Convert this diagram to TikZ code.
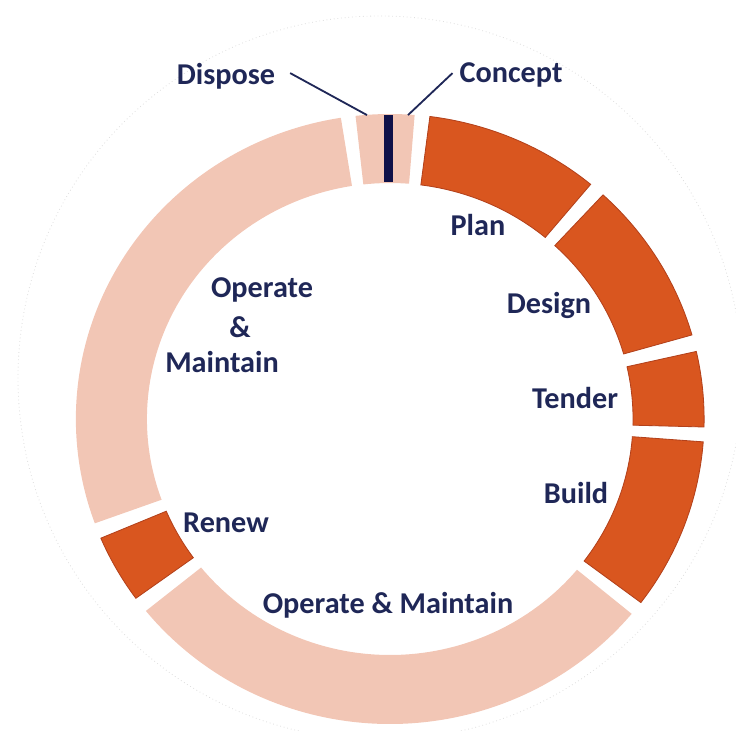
\documentclass[tikz,border=0pt]{standalone}
\usepackage{fontspec}
\setmainfont{Carlito}
\definecolor{phaseorange}{HTML}{D9561F}
\definecolor{phasepink}{HTML}{F2C6B5}
\definecolor{phaseedge}{HTML}{B3411B}
\definecolor{phasenavy}{HTML}{1F2757}
\definecolor{barnavy}{HTML}{0F1148}
\begin{document}
\begin{tikzpicture}[scale=0.025,
  every node/.style={font=\fontsize{21.5}{25}\selectfont\bfseries, text=phasenavy},
  darkseg/.style={fill=phaseorange, draw=phaseedge, line width=0.6pt},
  lightseg/.style={fill=phasepink},
  leader/.style={draw=phasenavy, line width=1.3pt}]
\pgfmathsetmacro{\Ro}{305}
\pgfmathsetmacro{\Ri}{236}
\useasboundingbox (-390,-311) rectangle (346,419);
\draw[black!12, line width=0.6pt, dotted] (-10,41) circle (362);
\begin{scope}[xscale=1.03]
\foreach \a/\b/\s in {99/200/lightseg, 203/216/darkseg, 219/320.3/lightseg,
  323/355.7/darkseg, 358.5/372.8/darkseg, 376/407.3/darkseg,
  410.3/442.7/darkseg, 445.5/456.3/lightseg}
  \path[\s] (\a:\Ro) arc (\a:\b:\Ro) -- (\b:\Ri) arc (\b:\a:\Ri) -- cycle;
\end{scope}
\fill[barnavy] (-6,237) rectangle (3,304);
\coordinate (disposetip) at (-23,304);
\coordinate (concepttip) at (18,304);
\node (dispose) at (-164,343) {Dispose};
\node (concept) at (121,344) {Concept};
\node (plan) at (88,194) {Plan};
\node (design) at (159,114) {Design};
\node (tender) at (185,21) {Tender};
\node (build) at (186,-74) {Build};
\node (operatelow) at (-2,-186) {Operate \& Maintain};
\node (renew) at (-164,-104) {Renew};
\node (operate) at (-128,129) {Operate};
\node (amp) at (-150,92) {\&};
\node (maintain) at (-168,57) {Maintain};
\draw[leader] (dispose.east) ++(10,3) -- (disposetip);
\draw[leader] (concept.west) ++(-2,2) -- (concepttip);
\end{tikzpicture}
\end{document}
